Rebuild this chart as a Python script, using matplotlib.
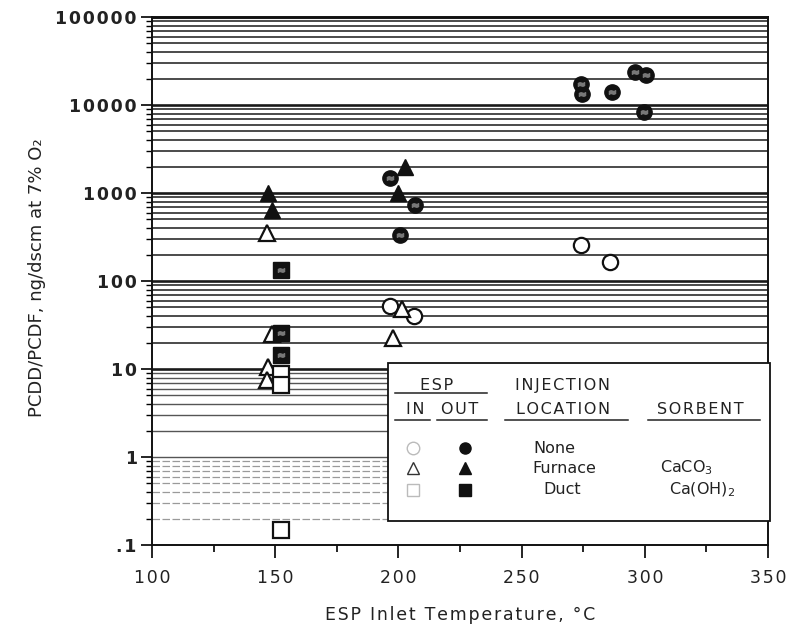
import matplotlib
matplotlib.use("Agg")
import matplotlib.pyplot as plt
import numpy as np
from matplotlib.patches import Rectangle

# ---------------- data ----------------
in_none_x = [274.3, 285.7, 196.5, 206.3]
in_none_y = [257, 164, 52, 40]
out_none_x = [274.0, 274.5, 286.5, 296.0, 300.5, 299.5, 196.5, 206.7, 200.6]
out_none_y = [17500, 13500, 14000, 23500, 22000, 8300, 1500, 730, 330]
in_furn_x = [146.8, 148.9, 147.0, 146.5, 201.4, 197.7]
in_furn_y = [350, 25, 10.5, 7.5, 48, 22.5]
out_furn_x = [147.2, 148.9, 202.6, 199.8]
out_furn_y = [1000, 640, 2000, 1000]
in_duct_x = [152.5, 152.5, 152.5]
in_duct_y = [8.8, 6.5, 0.15]
out_duct_x = [152.5, 152.5, 152.5]
out_duct_y = [135, 25.5, 14.5]

x_ticks = [100, 150, 200, 250, 300, 350]
y_ticks = [0.1, 1, 10, 100, 1000, 10000, 100000]
y_tick_labels = [".1", "1", "10", "100", "1000", "10000", "100000"]

HS = "\u200a"
def sp(s):
    return HS.join(list(s))

plt.rcParams['font.family'] = ['DejaVu Sans']
fig = plt.figure(figsize=(7.9, 6.27), dpi=100)
ax = fig.add_axes([152/790, 82/627, 616/790, 528/627])
ax.set_yscale('log')
ax.set_xlim(100, 350)
ax.set_ylim(0.1, 100000)

# semi-log paper gridlines
for e in range(-1, 5):
    for m in range(1, 10):
        v = m * 10.0**e
        if v <= 0.1:
            continue
        if e < 0:
            ax.axhline(v, color='#9a9a9a', lw=0.9, ls=(0, (6, 2)), zorder=1)
        elif e == 0:
            ax.axhline(v, color='#555555', lw=1.0, zorder=1)
        else:
            ax.axhline(v, color='#1a1a1a', lw=1.9 if m == 1 else 1.1, zorder=1)
ax.axhline(100000, color='#1a1a1a', lw=2.2, zorder=1)

for s in ax.spines.values():
    s.set_linewidth(1.4)
    s.set_color('#111111')

ax.set_xticks(x_ticks)
ax.set_xticklabels([sp(str(t)) for t in x_ticks], fontsize=12.5, color='#222222')
ax.set_xticks([125, 175, 225, 275, 325], minor=True)
ax.tick_params(axis='x', which='major', direction='out', length=9, width=1.2, pad=8)
ax.tick_params(axis='x', which='minor', direction='out', length=5, width=1.2)
ax.set_yticks(y_ticks)
ax.set_yticklabels([sp(t) for t in y_tick_labels], fontsize=12.5, fontweight='bold', color='#222222')
ax.tick_params(axis='y', which='major', direction='out', length=8, width=1.2, pad=3)
ax.tick_params(axis='y', which='minor', direction='out', length=4, width=1.0)
ax.yaxis.set_minor_locator(matplotlib.ticker.LogLocator(base=10, subs=np.arange(2, 10)))
ax.yaxis.set_minor_formatter(matplotlib.ticker.NullFormatter())

ax.set_xlabel(sp("ESP Inlet Temperature, °C"), fontsize=12.5, color='#222222', labelpad=14)
ax.set_ylabel("PCDD/PCDF, ng/dscm at 7% O\u2082", fontsize=13, color='#222222')
ax.yaxis.set_label_coords(-0.172, 0.506)

kw_open = dict(ls='none', mfc='white', mec='#111111', mew=1.6, zorder=5)
kw_fill = dict(ls='none', mfc='#111111', mec='#111111', mew=1.0, zorder=5)
ax.plot(in_none_x, in_none_y, marker='o', ms=11, **kw_open)
ax.plot(in_furn_x, in_furn_y, marker='^', ms=12, **kw_open)
ax.plot(in_duct_x, in_duct_y, marker='s', ms=11, **kw_open)
ax.plot(out_none_x, out_none_y, marker='o', ms=11, **kw_fill)
ax.plot(out_furn_x, out_furn_y, marker='^', ms=12, **kw_fill)
ax.plot(out_duct_x, out_duct_y, marker='s', ms=11, **kw_fill)
# faint texture inside filled circles / squares
for xs, ys in [(out_none_x, out_none_y), (out_duct_x, out_duct_y)]:
    ax.plot(xs, ys, ls='none', marker=r'$\approx$', color='#777777', ms=4.5, zorder=6)

# legend box
T = ax.transAxes
ax.add_patch(Rectangle((0.383, 0.0455), 0.62, 0.2992, transform=T, facecolor='white',
                       edgecolor='#111111', lw=1.3, zorder=3, clip_on=False))
tkw = dict(transform=T, ha='center', va='center', color='#222222', zorder=7, fontsize=11.5)
ax.text(0.4627, 0.303, sp("ESP"), **tkw)
ax.text(0.667, 0.303, sp("INJECTION"), **tkw)
ax.text(0.427, 0.2557, sp("IN"), **tkw)
ax.text(0.500, 0.2557, sp("OUT"), **tkw)
ax.text(0.667, 0.2557, sp("LOCATION"), **tkw)
ax.text(0.8896, 0.2557, sp("SORBENT"), **tkw)
for x0, x1, yy in [(0.3945, 0.5438, 0.288), (0.3945, 0.4513, 0.2367), (0.4627, 0.5438, 0.2367),
                   (0.573, 0.7727, 0.2367), (0.805, 0.987, 0.2367)]:
    ax.plot([x0, x1], [yy, yy], transform=T, color='#222222', lw=1.1, zorder=7)
rows = [0.1837, 0.1458, 0.1042]
lk_open = dict(ls='none', mfc='white', ms=9, zorder=7, transform=T)
ax.plot([0.4237], [rows[0]], marker='o', mec='#bbbbbb', mew=1.0, **lk_open)
ax.plot([0.4237], [rows[1]], marker='^', mec='#333333', mew=1.0, **lk_open)
ax.plot([0.4237], [rows[2]], marker='s', mec='#bbbbbb', mew=1.0, **lk_open)
lk_fill = dict(ls='none', mfc='#111111', mec='#111111', ms=8, zorder=7, transform=T)
ax.plot([0.508], [rows[0]], marker='o', **lk_fill)
ax.plot([0.508], [rows[1]], marker='^', **lk_fill)
ax.plot([0.508], [rows[2]], marker='s', **lk_fill)
ax.text(0.654, rows[0], "None", **tkw)
ax.text(0.670, rows[1], "Furnace", **tkw)
ax.text(0.6656, rows[2], "Duct", **tkw)
ax.text(0.8685, rows[1], "CaCO$_3$", **tkw)
ax.text(0.893, rows[2], "Ca(OH)$_2$", **tkw)

fig.savefig("out.png", dpi=100)
